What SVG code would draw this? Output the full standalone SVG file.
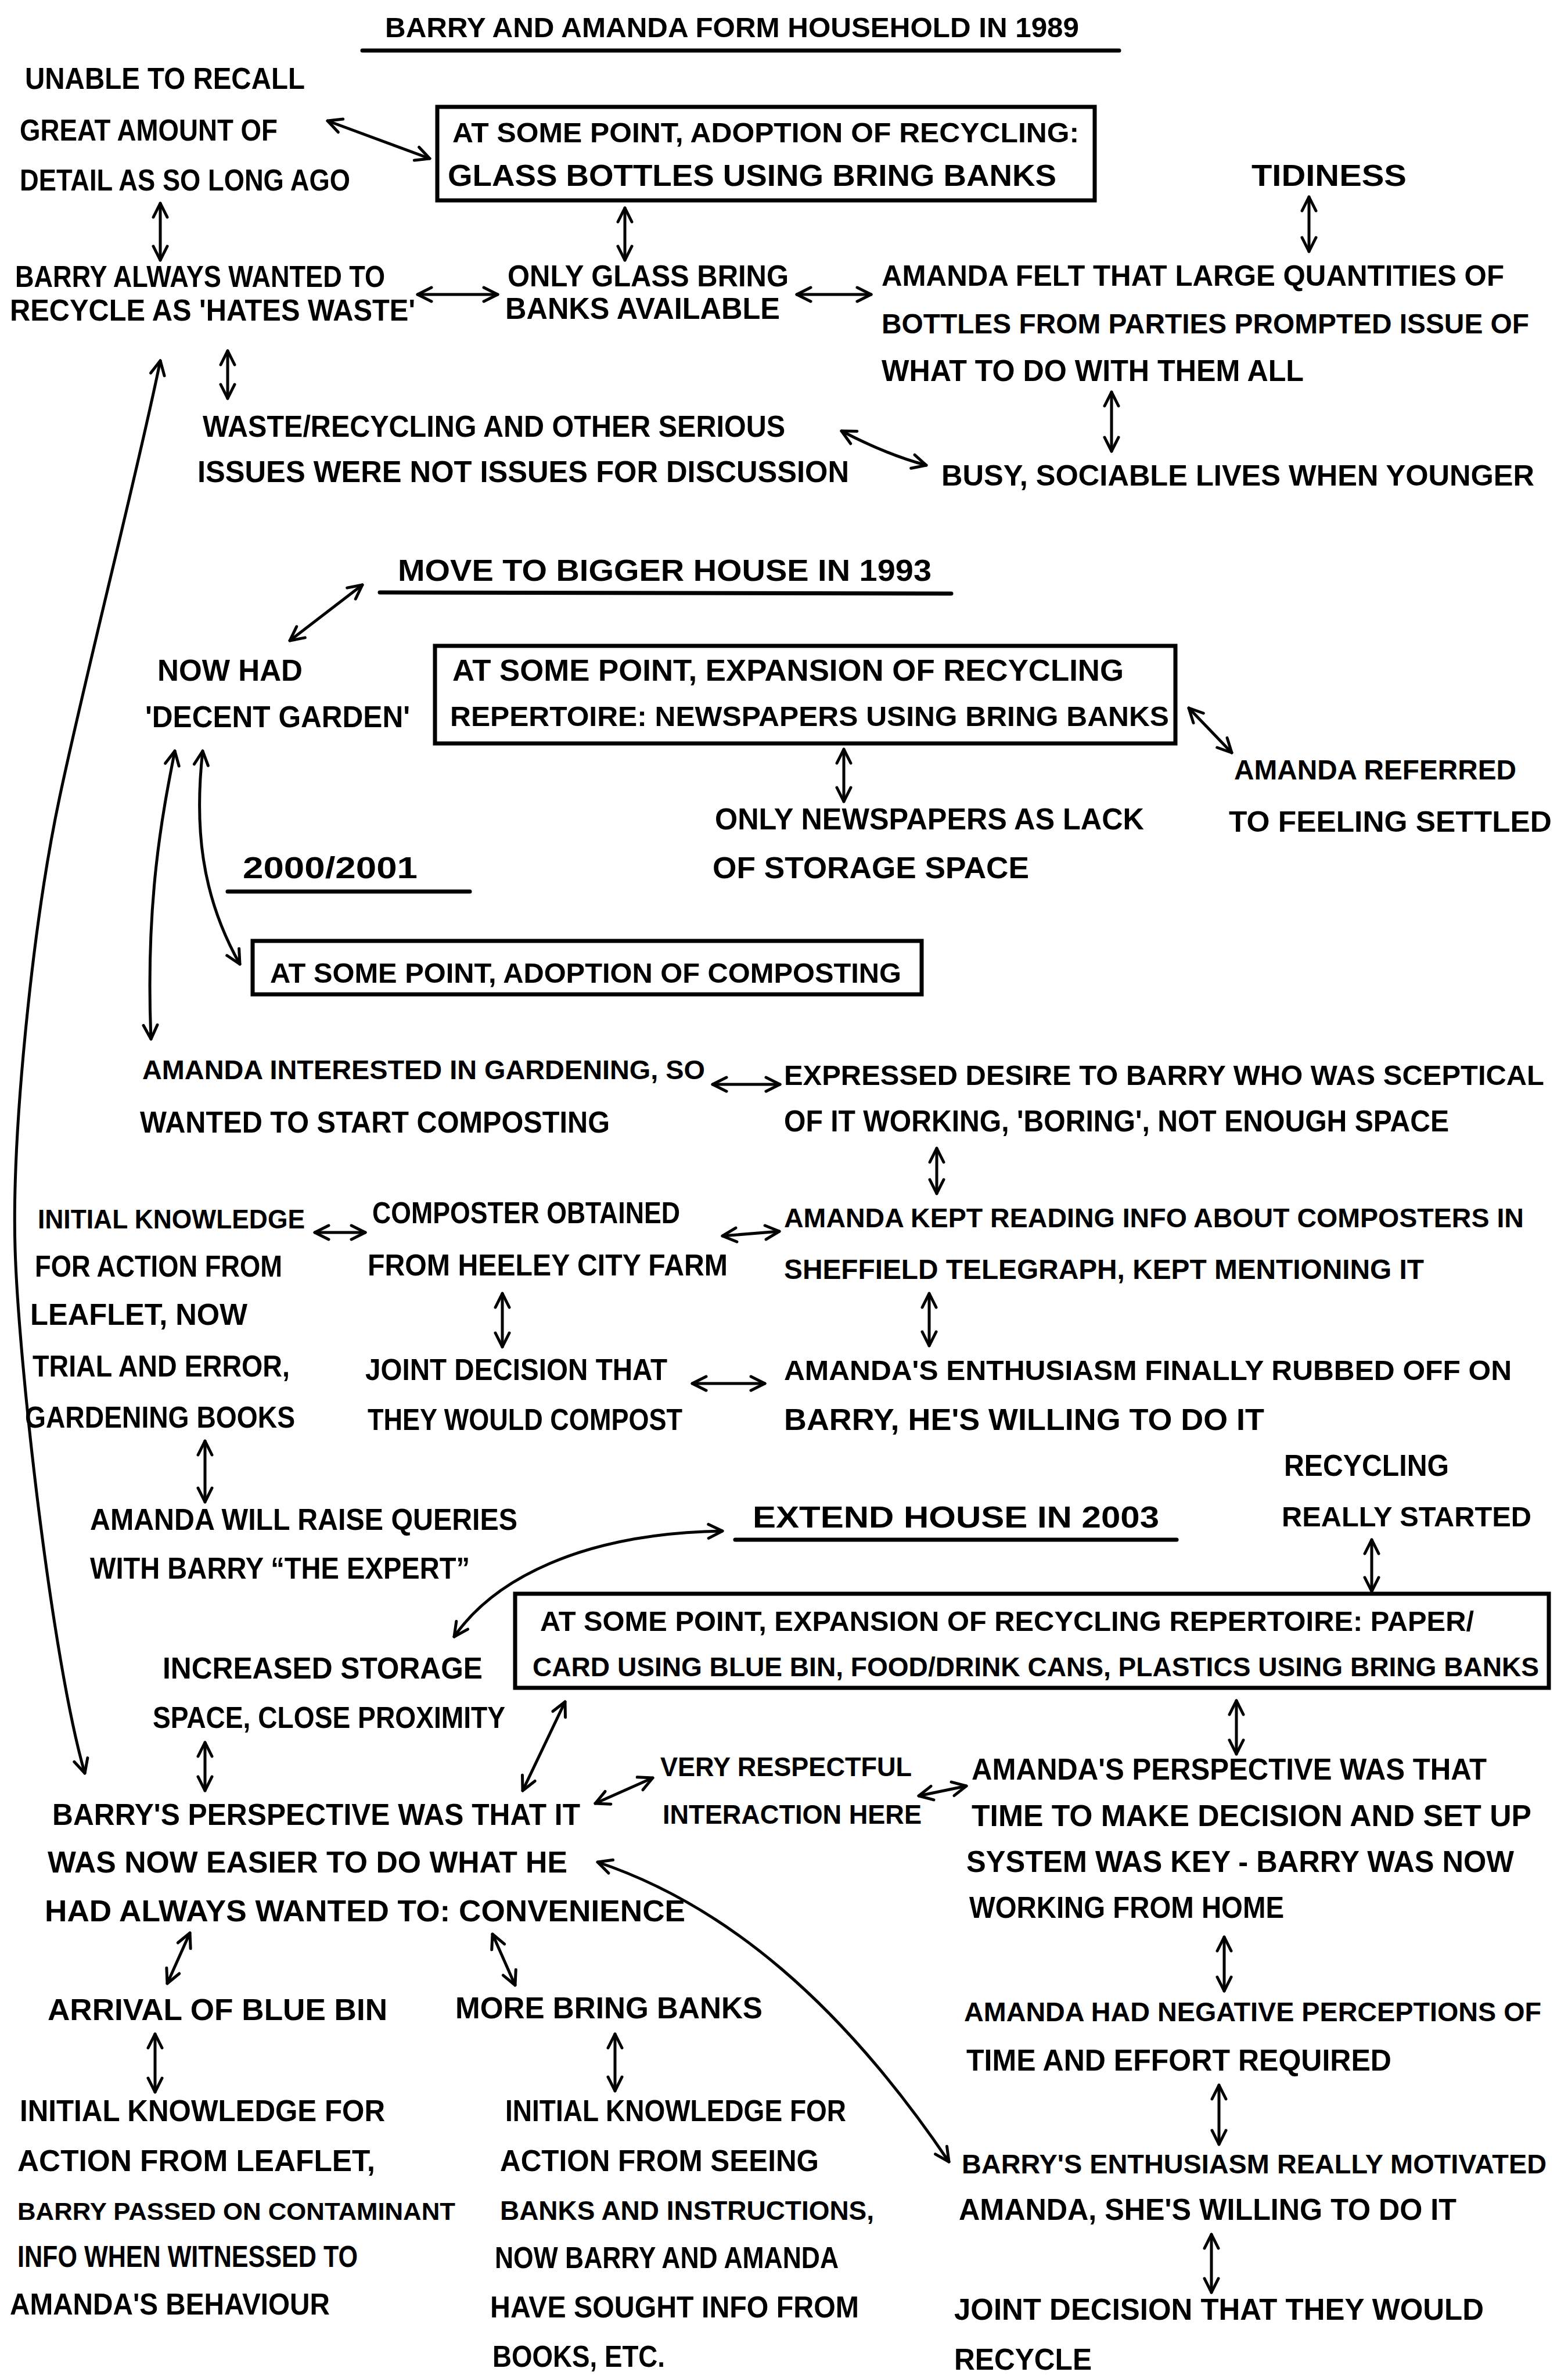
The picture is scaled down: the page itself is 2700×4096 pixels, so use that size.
<svg xmlns="http://www.w3.org/2000/svg" width="2700" height="4096" viewBox="0 0 2700 4096">
<defs>
<style>
  text { font-family: "Liberation Sans", Arial, sans-serif; font-weight: 700; font-size: 52px; fill: #000; }
  text.s50 { font-size: 50px; }
  text.s49 { font-size: 49px; }
  text.s48 { font-size: 48px; }
  text.s47 { font-size: 47px; }
  text.s46 { font-size: 46px; }
  text.s43 { font-size: 43px; }
  .box { fill: none; stroke: #000; stroke-width: 7; }
  .rule { stroke: #000; stroke-width: 7; stroke-linecap: round; }
  .link { fill: none; stroke: #000; stroke-width: 5; stroke-linecap: round; marker-start: url(#head); marker-end: url(#head); }
</style>
<marker id="head" viewBox="0 0 32 32" refX="29" refY="16" markerWidth="32" markerHeight="32" markerUnits="userSpaceOnUse" orient="auto-start-reverse">
  <path d="M5,4 L29,16 L5,28" fill="none" stroke="#000" stroke-width="5" stroke-linecap="round" stroke-linejoin="round"/>
</marker>
</defs>
<rect width="2700" height="4096" fill="#fff"/>

<!-- 1989 section -->
<g id="title-1989">
  <text class="s48" x="663" y="64" textLength="1195" lengthAdjust="spacingAndGlyphs">BARRY AND AMANDA FORM HOUSEHOLD IN 1989</text>
  <line class="rule" x1="624" y1="87" x2="1927" y2="87"/>
</g>
<g id="unable-to-recall">
  <text x="43" y="153" textLength="482" lengthAdjust="spacingAndGlyphs">UNABLE TO RECALL</text>
  <text x="34" y="242" textLength="444" lengthAdjust="spacingAndGlyphs">GREAT AMOUNT OF</text>
  <text x="34" y="328" textLength="569" lengthAdjust="spacingAndGlyphs">DETAIL AS SO LONG AGO</text>
</g>
<g id="adoption-glass">
  <rect class="box" x="753" y="184" width="1132" height="161"/>
  <text class="s49" x="779" y="245" textLength="1079" lengthAdjust="spacingAndGlyphs">AT SOME POINT, ADOPTION OF RECYCLING:</text>
  <text x="771" y="320" textLength="1048" lengthAdjust="spacingAndGlyphs">GLASS BOTTLES USING BRING BANKS</text>
</g>
<g id="tidiness">
  <text x="2155" y="320" textLength="267" lengthAdjust="spacingAndGlyphs">TIDINESS</text>
</g>
<g id="barry-always-wanted">
  <text x="26" y="494" textLength="637" lengthAdjust="spacingAndGlyphs">BARRY ALWAYS WANTED TO</text>
  <text x="17" y="552" textLength="698" lengthAdjust="spacingAndGlyphs">RECYCLE AS 'HATES WASTE'</text>
</g>
<g id="only-glass">
  <text x="874" y="493" textLength="484" lengthAdjust="spacingAndGlyphs">ONLY GLASS BRING</text>
  <text x="870" y="549" textLength="473" lengthAdjust="spacingAndGlyphs">BANKS AVAILABLE</text>
</g>
<g id="amanda-bottles">
  <text class="s50" x="1518" y="492" textLength="1072" lengthAdjust="spacingAndGlyphs">AMANDA FELT THAT LARGE QUANTITIES OF</text>
  <text class="s48" x="1518" y="574" textLength="1115" lengthAdjust="spacingAndGlyphs">BOTTLES FROM PARTIES PROMPTED ISSUE OF</text>
  <text x="1518" y="656" textLength="727" lengthAdjust="spacingAndGlyphs">WHAT TO DO WITH THEM ALL</text>
</g>
<g id="not-discussed">
  <text x="349" y="752" textLength="1003" lengthAdjust="spacingAndGlyphs">WASTE/RECYCLING AND OTHER SERIOUS</text>
  <text x="340" y="830" textLength="1122" lengthAdjust="spacingAndGlyphs">ISSUES WERE NOT ISSUES FOR DISCUSSION</text>
</g>
<g id="busy-lives">
  <text class="s50" x="1621" y="836" textLength="1021" lengthAdjust="spacingAndGlyphs">BUSY, SOCIABLE LIVES WHEN YOUNGER</text>
</g>

<!-- 1993 section -->
<g id="title-1993">
  <text x="685" y="1000" textLength="919" lengthAdjust="spacingAndGlyphs">MOVE TO BIGGER HOUSE IN 1993</text>
  <line class="rule" x1="654" y1="1020" x2="1638" y2="1022"/>
</g>
<g id="decent-garden">
  <text x="271" y="1172" textLength="250" lengthAdjust="spacingAndGlyphs">NOW HAD</text>
  <text x="250" y="1252" textLength="456" lengthAdjust="spacingAndGlyphs">'DECENT GARDEN'</text>
</g>
<g id="expansion-newspapers">
  <rect class="box" x="749" y="1112" width="1275" height="168"/>
  <text x="779" y="1172" textLength="1156" lengthAdjust="spacingAndGlyphs">AT SOME POINT, EXPANSION OF RECYCLING</text>
  <text class="s49" x="775" y="1250" textLength="1238" lengthAdjust="spacingAndGlyphs">REPERTOIRE: NEWSPAPERS USING BRING BANKS</text>
</g>
<g id="feeling-settled">
  <text class="s48" x="2125" y="1342" textLength="486" lengthAdjust="spacingAndGlyphs">AMANDA REFERRED</text>
  <text class="s50" x="2116" y="1432" textLength="556" lengthAdjust="spacingAndGlyphs">TO FEELING SETTLED</text>
</g>
<g id="only-newspapers">
  <text x="1231" y="1428" textLength="739" lengthAdjust="spacingAndGlyphs">ONLY NEWSPAPERS AS LACK</text>
  <text x="1227" y="1512" textLength="545" lengthAdjust="spacingAndGlyphs">OF STORAGE SPACE</text>
</g>

<!-- 2000/2001 section -->
<g id="title-2000">
  <text x="418" y="1512" textLength="301" lengthAdjust="spacingAndGlyphs">2000/2001</text>
  <line class="rule" x1="392" y1="1535" x2="809" y2="1535"/>
</g>
<g id="adoption-composting">
  <rect class="box" x="435" y="1620" width="1152" height="92"/>
  <text class="s48" x="465" y="1692" textLength="1087" lengthAdjust="spacingAndGlyphs">AT SOME POINT, ADOPTION OF COMPOSTING</text>
</g>
<g id="amanda-gardening">
  <text class="s47" x="245" y="1858" textLength="969" lengthAdjust="spacingAndGlyphs">AMANDA INTERESTED IN GARDENING, SO</text>
  <text x="241" y="1950" textLength="809" lengthAdjust="spacingAndGlyphs">WANTED TO START COMPOSTING</text>
</g>
<g id="expressed-desire">
  <text class="s48" x="1350" y="1868" textLength="1309" lengthAdjust="spacingAndGlyphs">EXPRESSED DESIRE TO BARRY WHO WAS SCEPTICAL</text>
  <text x="1350" y="1948" textLength="1145" lengthAdjust="spacingAndGlyphs">OF IT WORKING, 'BORING', NOT ENOUGH SPACE</text>
</g>
<g id="initial-knowledge-compost">
  <text class="s46" x="65" y="2115" textLength="460" lengthAdjust="spacingAndGlyphs">INITIAL KNOWLEDGE</text>
  <text x="60" y="2198" textLength="426" lengthAdjust="spacingAndGlyphs">FOR ACTION FROM</text>
  <text x="52" y="2281" textLength="374" lengthAdjust="spacingAndGlyphs">LEAFLET, NOW</text>
  <text x="56" y="2370" textLength="443" lengthAdjust="spacingAndGlyphs">TRIAL AND ERROR,</text>
  <text x="43" y="2458" textLength="465" lengthAdjust="spacingAndGlyphs">GARDENING BOOKS</text>
</g>
<g id="composter-obtained">
  <text x="641" y="2106" textLength="530" lengthAdjust="spacingAndGlyphs">COMPOSTER OBTAINED</text>
  <text x="633" y="2196" textLength="620" lengthAdjust="spacingAndGlyphs">FROM HEELEY CITY FARM</text>
</g>
<g id="kept-reading">
  <text class="s46" x="1350" y="2113" textLength="1274" lengthAdjust="spacingAndGlyphs">AMANDA KEPT READING INFO ABOUT COMPOSTERS IN</text>
  <text class="s48" x="1350" y="2202" textLength="1102" lengthAdjust="spacingAndGlyphs">SHEFFIELD TELEGRAPH, KEPT MENTIONING IT</text>
</g>
<g id="joint-decision-compost">
  <text x="629" y="2376" textLength="520" lengthAdjust="spacingAndGlyphs">JOINT DECISION THAT</text>
  <text x="633" y="2462" textLength="542" lengthAdjust="spacingAndGlyphs">THEY WOULD COMPOST</text>
</g>
<g id="enthusiasm-rubbed-off">
  <text class="s49" x="1350" y="2376" textLength="1253" lengthAdjust="spacingAndGlyphs">AMANDA'S ENTHUSIASM FINALLY RUBBED OFF ON</text>
  <text x="1350" y="2462" textLength="827" lengthAdjust="spacingAndGlyphs">BARRY, HE'S WILLING TO DO IT</text>
</g>
<g id="raise-queries">
  <text x="155" y="2634" textLength="736" lengthAdjust="spacingAndGlyphs">AMANDA WILL RAISE QUERIES</text>
  <text x="155" y="2718" textLength="654" lengthAdjust="spacingAndGlyphs">WITH BARRY “THE EXPERT”</text>
</g>
<g id="recycling-started">
  <text x="2211" y="2541" textLength="284" lengthAdjust="spacingAndGlyphs">RECYCLING</text>
  <text class="s48" x="2207" y="2628" textLength="430" lengthAdjust="spacingAndGlyphs">REALLY STARTED</text>
</g>

<!-- 2003 section -->
<g id="title-2003">
  <text x="1296" y="2630" textLength="700" lengthAdjust="spacingAndGlyphs">EXTEND HOUSE IN 2003</text>
  <line class="rule" x1="1266" y1="2651" x2="2026" y2="2651"/>
</g>
<g id="expansion-blue-bin">
  <rect class="box" x="887" y="2744" width="1780" height="162"/>
  <text class="s48" x="930" y="2808" textLength="1608" lengthAdjust="spacingAndGlyphs">AT SOME POINT, EXPANSION OF RECYCLING REPERTOIRE: PAPER/</text>
  <text class="s46" x="917" y="2886" textLength="1733" lengthAdjust="spacingAndGlyphs">CARD USING BLUE BIN, FOOD/DRINK CANS, PLASTICS USING BRING BANKS</text>
</g>
<g id="storage-space">
  <text x="280" y="2890" textLength="551" lengthAdjust="spacingAndGlyphs">INCREASED STORAGE</text>
  <text x="263" y="2975" textLength="607" lengthAdjust="spacingAndGlyphs">SPACE, CLOSE PROXIMITY</text>
</g>
<g id="barry-perspective">
  <text x="90" y="3142" textLength="909" lengthAdjust="spacingAndGlyphs">BARRY'S PERSPECTIVE WAS THAT IT</text>
  <text x="82" y="3224" textLength="895" lengthAdjust="spacingAndGlyphs">WAS NOW EASIER TO DO WHAT HE</text>
  <text x="77" y="3308" textLength="1103" lengthAdjust="spacingAndGlyphs">HAD ALWAYS WANTED TO: CONVENIENCE</text>
</g>
<g id="respectful">
  <text class="s46" x="1137" y="3058" textLength="433" lengthAdjust="spacingAndGlyphs">VERY RESPECTFUL</text>
  <text class="s46" x="1141" y="3140" textLength="446" lengthAdjust="spacingAndGlyphs">INTERACTION HERE</text>
</g>
<g id="amanda-perspective">
  <text x="1673" y="3064" textLength="887" lengthAdjust="spacingAndGlyphs">AMANDA'S PERSPECTIVE WAS THAT</text>
  <text x="1673" y="3144" textLength="964" lengthAdjust="spacingAndGlyphs">TIME TO MAKE DECISION AND SET UP</text>
  <text x="1664" y="3223" textLength="943" lengthAdjust="spacingAndGlyphs">SYSTEM WAS KEY - BARRY WAS NOW</text>
  <text x="1669" y="3302" textLength="542" lengthAdjust="spacingAndGlyphs">WORKING FROM HOME</text>
</g>
<g id="blue-bin">
  <text x="82" y="3478" textLength="585" lengthAdjust="spacingAndGlyphs">ARRIVAL OF BLUE BIN</text>
</g>
<g id="more-banks">
  <text x="784" y="3475" textLength="529" lengthAdjust="spacingAndGlyphs">MORE BRING BANKS</text>
</g>
<g id="negative-perceptions">
  <text class="s46" x="1660" y="3480" textLength="994" lengthAdjust="spacingAndGlyphs">AMANDA HAD NEGATIVE PERCEPTIONS OF</text>
  <text x="1664" y="3565" textLength="732" lengthAdjust="spacingAndGlyphs">TIME AND EFFORT REQUIRED</text>
</g>
<g id="knowledge-leaflet">
  <text x="34" y="3652" textLength="629" lengthAdjust="spacingAndGlyphs">INITIAL KNOWLEDGE FOR</text>
  <text x="30" y="3738" textLength="616" lengthAdjust="spacingAndGlyphs">ACTION FROM LEAFLET,</text>
  <text class="s43" x="30" y="3822" textLength="754" lengthAdjust="spacingAndGlyphs">BARRY PASSED ON CONTAMINANT</text>
  <text x="30" y="3903" textLength="586" lengthAdjust="spacingAndGlyphs">INFO WHEN WITNESSED TO</text>
  <text x="17" y="3985" textLength="551" lengthAdjust="spacingAndGlyphs">AMANDA'S BEHAVIOUR</text>
</g>
<g id="knowledge-banks">
  <text x="870" y="3652" textLength="587" lengthAdjust="spacingAndGlyphs">INITIAL KNOWLEDGE FOR</text>
  <text x="861" y="3738" textLength="549" lengthAdjust="spacingAndGlyphs">ACTION FROM SEEING</text>
  <text class="s46" x="861" y="3822" textLength="644" lengthAdjust="spacingAndGlyphs">BANKS AND INSTRUCTIONS,</text>
  <text x="852" y="3905" textLength="592" lengthAdjust="spacingAndGlyphs">NOW BARRY AND AMANDA</text>
  <text x="844" y="3990" textLength="635" lengthAdjust="spacingAndGlyphs">HAVE SOUGHT INFO FROM</text>
  <text x="848" y="4075" textLength="297" lengthAdjust="spacingAndGlyphs">BOOKS, ETC.</text>
</g>
<g id="barry-enthusiasm">
  <text class="s46" x="1656" y="3742" textLength="1007" lengthAdjust="spacingAndGlyphs">BARRY'S ENTHUSIASM REALLY MOTIVATED</text>
  <text x="1651" y="3822" textLength="857" lengthAdjust="spacingAndGlyphs">AMANDA, SHE'S WILLING TO DO IT</text>
</g>
<g id="joint-decision-recycle">
  <text x="1643" y="3994" textLength="912" lengthAdjust="spacingAndGlyphs">JOINT DECISION THAT THEY WOULD</text>
  <text x="1643" y="4080" textLength="237" lengthAdjust="spacingAndGlyphs">RECYCLE</text>
</g>

<!-- two-way links between notes -->
<g id="connectors">
  <path class="link" d="M564,208 L740,273"/>
  <path class="link" d="M276,350 L276,448"/>
  <path class="link" d="M1076,358 L1076,448"/>
  <path class="link" d="M2254,339 L2254,433"/>
  <path class="link" d="M719,507 L857,507"/>
  <path class="link" d="M1372,507 L1500,507"/>
  <path class="link" d="M392,604 L392,686"/>
  <path class="link" d="M276,621 C240,800 150,1150 103,1371 S20,1950 26,2150 S90,2860 146,3053"/>
  <path class="link" d="M1914,675 L1914,777"/>
  <path class="link" d="M1449,742 Q1525,782 1595,801"/>
  <path class="link" d="M499,1103 L624,1007"/>
  <path class="link" d="M2047,1219 L2121,1296"/>
  <path class="link" d="M1453,1290 L1453,1380"/>
  <path class="link" d="M301,1293 C280,1400 250,1550 260,1789"/>
  <path class="link" d="M349,1293 C335,1420 345,1540 413,1660"/>
  <path class="link" d="M1227,1867 L1343,1867"/>
  <path class="link" d="M1613,1977 L1613,2055"/>
  <path class="link" d="M542,2122 L629,2122"/>
  <path class="link" d="M1244,2128 L1342,2120"/>
  <path class="link" d="M865,2227 L865,2319"/>
  <path class="link" d="M1600,2227 L1600,2317"/>
  <path class="link" d="M1192,2382 L1317,2382"/>
  <path class="link" d="M353,2481 L353,2586"/>
  <path class="link" d="M1244,2636 C1000,2640 850,2720 782,2818"/>
  <path class="link" d="M2362,2651 L2362,2740"/>
  <path class="link" d="M353,3000 L353,3083"/>
  <path class="link" d="M973,2930 L900,3083"/>
  <path class="link" d="M2129,2928 L2129,3020"/>
  <path class="link" d="M1124,3061 L1025,3105"/>
  <path class="link" d="M1582,3092 L1664,3075"/>
  <path class="link" d="M1029,3206 C1250,3280 1450,3450 1634,3722"/>
  <path class="link" d="M327,3328 L288,3415"/>
  <path class="link" d="M848,3330 L887,3418"/>
  <path class="link" d="M2108,3335 L2108,3428"/>
  <path class="link" d="M267,3502 L267,3602"/>
  <path class="link" d="M1059,3502 L1059,3600"/>
  <path class="link" d="M2099,3590 L2099,3692"/>
  <path class="link" d="M2086,3847 L2086,3947"/>
</g>
</svg>
